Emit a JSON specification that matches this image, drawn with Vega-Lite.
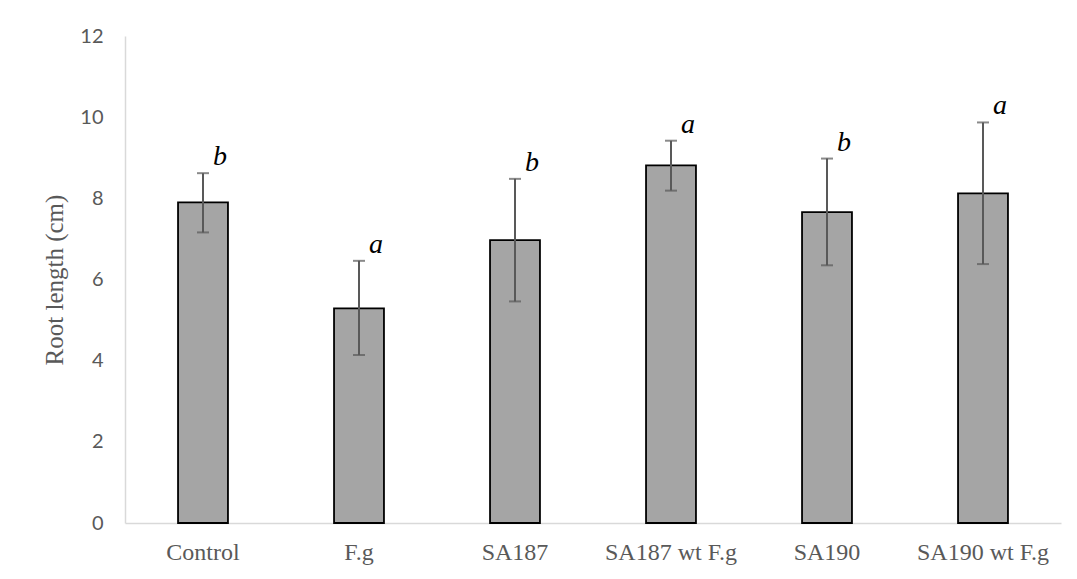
{
  "$schema": "https://vega.github.io/schema/vega-lite/v6.json",
  "width": 936,
  "height": 487,
  "autosize": {"type": "none"},
  "padding": {"left": 125, "top": 36, "right": 16, "bottom": 56},
  "background": "white",
  "config": {"view": {"stroke": null}},
  "data": {
    "values": [
      {"group": "Control", "mean": 7.90, "lo": 7.16, "hi": 8.62, "letter": "b"},
      {"group": "F.g", "mean": 5.29, "lo": 4.14, "hi": 6.46, "letter": "a"},
      {"group": "SA187", "mean": 6.97, "lo": 5.46, "hi": 8.48, "letter": "b"},
      {"group": "SA187 wt F.g", "mean": 8.81, "lo": 8.19, "hi": 9.42, "letter": "a"},
      {"group": "SA190", "mean": 7.66, "lo": 6.35, "hi": 8.98, "letter": "b"},
      {"group": "SA190 wt F.g", "mean": 8.12, "lo": 6.38, "hi": 9.87, "letter": "a"}
    ]
  },
  "encoding": {
    "x": {
      "field": "group",
      "type": "nominal",
      "sort": null,
      "scale": {"paddingInner": 0.68, "paddingOuter": 0.34},
      "axis": {
        "title": null,
        "labelAngle": 0,
        "labelFont": "Liberation Serif",
        "labelFontSize": 24,
        "labelColor": "#595959",
        "labelPadding": 17,
        "ticks": false,
        "domainColor": "#d9d9d9",
        "domainWidth": 1.5
      }
    }
  },
  "layer": [
    {
      "mark": {"type": "bar", "fill": "#a5a5a5", "stroke": "#000000", "strokeWidth": 1.8},
      "encoding": {
        "y": {
          "field": "mean",
          "type": "quantitative",
          "scale": {"domain": [0, 12]},
          "axis": {
            "title": "Root length (cm)",
            "titleFont": "Liberation Serif",
            "titleFontSize": 25,
            "titleFontWeight": "normal",
            "titleColor": "#595959",
            "titlePadding": 12,
            "values": [0, 2, 4, 6, 8, 10, 12],
            "labelFont": "Lato",
            "labelFontSize": 20,
            "labelColor": "#595959",
            "labelPadding": 22,
            "ticks": false,
            "grid": false,
            "domainColor": "#d9d9d9",
            "domainWidth": 1.5
          }
        }
      }
    },
    {
      "mark": {"type": "rule", "color": "#595959", "strokeWidth": 2},
      "encoding": {
        "y": {"field": "lo", "type": "quantitative"},
        "y2": {"field": "hi"}
      }
    },
    {
      "mark": {"type": "tick", "color": "#595959", "size": 12, "thickness": 2},
      "encoding": {"y": {"field": "lo", "type": "quantitative"}}
    },
    {
      "mark": {"type": "tick", "color": "#595959", "size": 12, "thickness": 2},
      "encoding": {"y": {"field": "hi", "type": "quantitative"}}
    },
    {
      "mark": {"type": "text", "font": "Liberation Serif", "fontStyle": "italic", "fontSize": 28, "color": "#000000", "dx": 17, "dy": -8, "baseline": "alphabetic", "align": "center"},
      "encoding": {
        "y": {"field": "hi", "type": "quantitative"},
        "text": {"field": "letter"}
      }
    }
  ]
}
